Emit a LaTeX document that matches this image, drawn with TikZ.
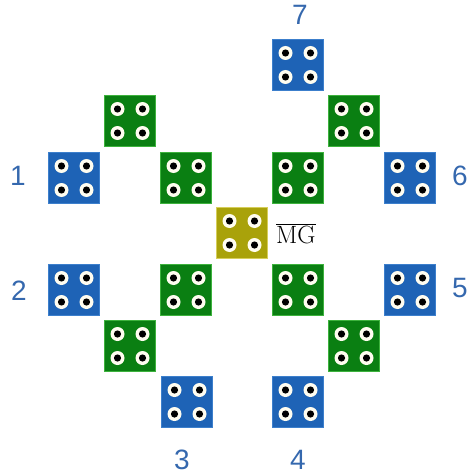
\documentclass[tikz,border=0pt]{standalone}
\usepackage{fontspec}
\newfontfamily\labelfont{Liberation Sans}
\begin{document}
\definecolor{padblue}{HTML}{1E63B6}
\definecolor{padbluerim}{HTML}{3C7FCC}
\definecolor{padgreen}{HTML}{0A7F12}
\definecolor{padgreenrim}{HTML}{3DB23D}
\definecolor{padyellow}{HTML}{A9A20A}
\definecolor{padyellowrim}{HTML}{D6CE5A}
\definecolor{numblue}{HTML}{3568AE}
\definecolor{holerim}{HTML}{FFFDF0}
\begin{tikzpicture}[x=1pt,y=-1pt,
  pad/.style={minimum size=51pt,inner sep=0pt,line width=1pt},
  bluepad/.style={pad,fill=padblue,draw=padbluerim},
  greenpad/.style={pad,fill=padgreen,draw=padgreenrim},
  yellowpad/.style={pad,fill=padyellow,draw=padyellowrim},
  numlabel/.style={font=\labelfont\fontsize{28}{28}\selectfont,text=numblue,inner sep=0pt},
  hole/.style={fill=holerim},
  holecore/.style={fill=black}]
\useasboundingbox (0,0) rectangle (469,476);

% outer ring of numbered blue pads
\node[bluepad] (b7) at (298,65) {};
\node[bluepad] (b1) at (74,178) {};
\node[bluepad] (b6) at (410,178) {};
\node[bluepad] (b2) at (74,290) {};
\node[bluepad] (b5) at (410,290) {};
\node[bluepad] (b3) at (187,402) {};
\node[bluepad] (b4) at (298,402) {};

% green pads
\node[greenpad] (g1) at (130,121) {};
\node[greenpad] (g2) at (354,121) {};
\node[greenpad] (g3) at (186,178) {};
\node[greenpad] (g4) at (298,178) {};
\node[greenpad] (g5) at (186,290) {};
\node[greenpad] (g6) at (298,290) {};
\node[greenpad] (g7) at (130,346) {};
\node[greenpad] (g8) at (354,346) {};

% central pad
\node[yellowpad] (mg) at (242,233) {};

% four holes in every pad
\foreach \p in {b1,b2,b3,b4,b5,b6,b7,g1,g2,g3,g4,g5,g6,g7,g8,mg}{
  \foreach \dx in {-12.5,12.5}{
    \foreach \dy in {-12,12}{
      \fill[hole] ([shift={(\dx,\dy)}]\p.center) circle (7);
      \fill[holecore] ([shift={(\dx,\dy)}]\p.center) circle (3.6);
    }
  }
}

% labels
\node[numlabel] (l7) at (300,15) {7};
\node[numlabel] (l1) at (18,176) {1};
\node[numlabel] (l6) at (460,176) {6};
\node[numlabel] (l2) at (19,291) {2};
\node[numlabel] (l5) at (460,288) {5};
\node[numlabel] (l3) at (182,460) {3};
\node[numlabel] (l4) at (298,460) {4};
\node[font=\fontsize{25}{25}\selectfont,inner sep=0pt,anchor=west] (mgl) at (276,234) {$\overline{\mathrm{MG}}$};
\end{tikzpicture}
\end{document}
